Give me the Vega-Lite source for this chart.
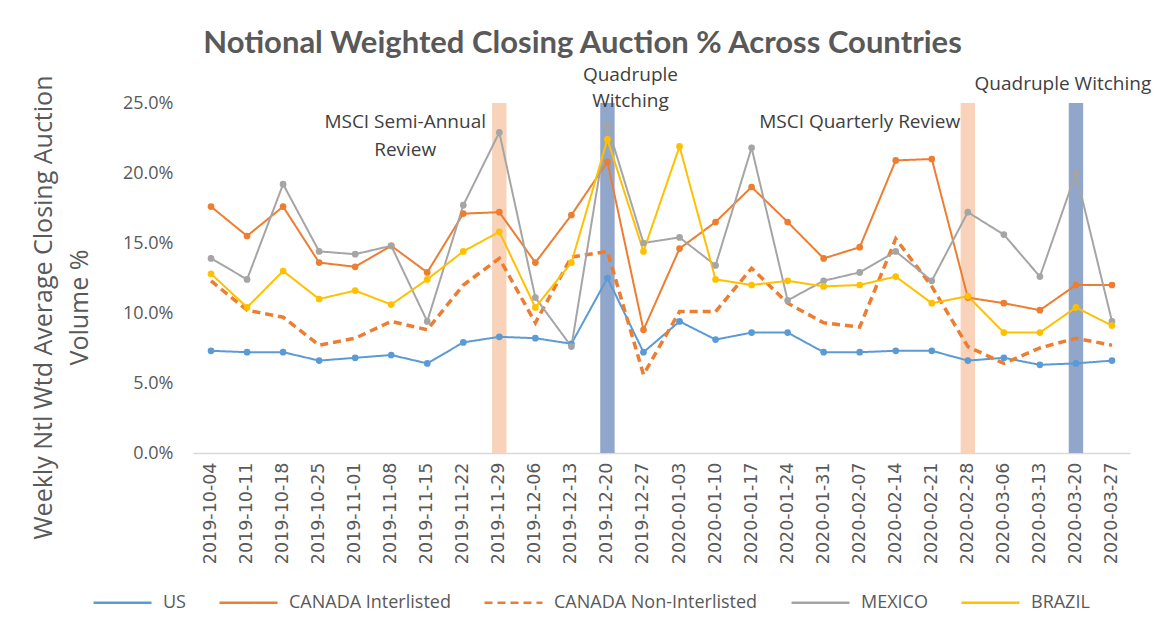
{
  "$schema": "https://vega.github.io/schema/vega-lite/v6.json",
  "autosize": "none",
  "width": 937,
  "height": 350,
  "padding": {"left": 193, "top": 103, "right": 28, "bottom": 179},
  "background": "white",
  "title": {
    "text": "Notional Weighted Closing Auction % Across Countries",
    "font": "Lato",
    "fontSize": 31,
    "fontWeight": "bold",
    "color": "#595959",
    "frame": "group",
    "anchor": "middle",
    "offset": 6,
    "dx": -79
  },
  "config": {
    "view": {"stroke": null},
    "axis": {"labelFont": "Open Sans", "titleFont": "Open Sans"},
    "legend": {"labelFont": "Open Sans"}
  },
  "datasets": {
    "series": [
      {"date": "2019-10-04", "series": "US", "value": 0.073},
      {"date": "2019-10-11", "series": "US", "value": 0.072},
      {"date": "2019-10-18", "series": "US", "value": 0.072},
      {"date": "2019-10-25", "series": "US", "value": 0.066},
      {"date": "2019-11-01", "series": "US", "value": 0.068},
      {"date": "2019-11-08", "series": "US", "value": 0.070},
      {"date": "2019-11-15", "series": "US", "value": 0.064},
      {"date": "2019-11-22", "series": "US", "value": 0.079},
      {"date": "2019-11-29", "series": "US", "value": 0.083},
      {"date": "2019-12-06", "series": "US", "value": 0.082},
      {"date": "2019-12-13", "series": "US", "value": 0.078},
      {"date": "2019-12-20", "series": "US", "value": 0.125},
      {"date": "2019-12-27", "series": "US", "value": 0.072},
      {"date": "2020-01-03", "series": "US", "value": 0.094},
      {"date": "2020-01-10", "series": "US", "value": 0.081},
      {"date": "2020-01-17", "series": "US", "value": 0.086},
      {"date": "2020-01-24", "series": "US", "value": 0.086},
      {"date": "2020-01-31", "series": "US", "value": 0.072},
      {"date": "2020-02-07", "series": "US", "value": 0.072},
      {"date": "2020-02-14", "series": "US", "value": 0.073},
      {"date": "2020-02-21", "series": "US", "value": 0.073},
      {"date": "2020-02-28", "series": "US", "value": 0.066},
      {"date": "2020-03-06", "series": "US", "value": 0.068},
      {"date": "2020-03-13", "series": "US", "value": 0.063},
      {"date": "2020-03-20", "series": "US", "value": 0.064},
      {"date": "2020-03-27", "series": "US", "value": 0.066},

      {"date": "2019-10-04", "series": "CANADA Interlisted", "value": 0.176},
      {"date": "2019-10-11", "series": "CANADA Interlisted", "value": 0.155},
      {"date": "2019-10-18", "series": "CANADA Interlisted", "value": 0.176},
      {"date": "2019-10-25", "series": "CANADA Interlisted", "value": 0.136},
      {"date": "2019-11-01", "series": "CANADA Interlisted", "value": 0.133},
      {"date": "2019-11-08", "series": "CANADA Interlisted", "value": 0.148},
      {"date": "2019-11-15", "series": "CANADA Interlisted", "value": 0.129},
      {"date": "2019-11-22", "series": "CANADA Interlisted", "value": 0.171},
      {"date": "2019-11-29", "series": "CANADA Interlisted", "value": 0.172},
      {"date": "2019-12-06", "series": "CANADA Interlisted", "value": 0.136},
      {"date": "2019-12-13", "series": "CANADA Interlisted", "value": 0.170},
      {"date": "2019-12-20", "series": "CANADA Interlisted", "value": 0.208},
      {"date": "2019-12-27", "series": "CANADA Interlisted", "value": 0.088},
      {"date": "2020-01-03", "series": "CANADA Interlisted", "value": 0.146},
      {"date": "2020-01-10", "series": "CANADA Interlisted", "value": 0.165},
      {"date": "2020-01-17", "series": "CANADA Interlisted", "value": 0.190},
      {"date": "2020-01-24", "series": "CANADA Interlisted", "value": 0.165},
      {"date": "2020-01-31", "series": "CANADA Interlisted", "value": 0.139},
      {"date": "2020-02-07", "series": "CANADA Interlisted", "value": 0.147},
      {"date": "2020-02-14", "series": "CANADA Interlisted", "value": 0.209},
      {"date": "2020-02-21", "series": "CANADA Interlisted", "value": 0.210},
      {"date": "2020-02-28", "series": "CANADA Interlisted", "value": 0.111},
      {"date": "2020-03-06", "series": "CANADA Interlisted", "value": 0.107},
      {"date": "2020-03-13", "series": "CANADA Interlisted", "value": 0.102},
      {"date": "2020-03-20", "series": "CANADA Interlisted", "value": 0.120},
      {"date": "2020-03-27", "series": "CANADA Interlisted", "value": 0.120},

      {"date": "2019-10-04", "series": "CANADA Non-Interlisted", "value": 0.123},
      {"date": "2019-10-11", "series": "CANADA Non-Interlisted", "value": 0.102},
      {"date": "2019-10-18", "series": "CANADA Non-Interlisted", "value": 0.097},
      {"date": "2019-10-25", "series": "CANADA Non-Interlisted", "value": 0.077},
      {"date": "2019-11-01", "series": "CANADA Non-Interlisted", "value": 0.082},
      {"date": "2019-11-08", "series": "CANADA Non-Interlisted", "value": 0.094},
      {"date": "2019-11-15", "series": "CANADA Non-Interlisted", "value": 0.088},
      {"date": "2019-11-22", "series": "CANADA Non-Interlisted", "value": 0.120},
      {"date": "2019-11-29", "series": "CANADA Non-Interlisted", "value": 0.139},
      {"date": "2019-12-06", "series": "CANADA Non-Interlisted", "value": 0.093},
      {"date": "2019-12-13", "series": "CANADA Non-Interlisted", "value": 0.140},
      {"date": "2019-12-20", "series": "CANADA Non-Interlisted", "value": 0.144},
      {"date": "2019-12-27", "series": "CANADA Non-Interlisted", "value": 0.056},
      {"date": "2020-01-03", "series": "CANADA Non-Interlisted", "value": 0.101},
      {"date": "2020-01-10", "series": "CANADA Non-Interlisted", "value": 0.101},
      {"date": "2020-01-17", "series": "CANADA Non-Interlisted", "value": 0.132},
      {"date": "2020-01-24", "series": "CANADA Non-Interlisted", "value": 0.107},
      {"date": "2020-01-31", "series": "CANADA Non-Interlisted", "value": 0.093},
      {"date": "2020-02-07", "series": "CANADA Non-Interlisted", "value": 0.090},
      {"date": "2020-02-14", "series": "CANADA Non-Interlisted", "value": 0.153},
      {"date": "2020-02-21", "series": "CANADA Non-Interlisted", "value": 0.119},
      {"date": "2020-02-28", "series": "CANADA Non-Interlisted", "value": 0.076},
      {"date": "2020-03-06", "series": "CANADA Non-Interlisted", "value": 0.064},
      {"date": "2020-03-13", "series": "CANADA Non-Interlisted", "value": 0.075},
      {"date": "2020-03-20", "series": "CANADA Non-Interlisted", "value": 0.082},
      {"date": "2020-03-27", "series": "CANADA Non-Interlisted", "value": 0.077},

      {"date": "2019-10-04", "series": "MEXICO", "value": 0.139},
      {"date": "2019-10-11", "series": "MEXICO", "value": 0.124},
      {"date": "2019-10-18", "series": "MEXICO", "value": 0.192},
      {"date": "2019-10-25", "series": "MEXICO", "value": 0.144},
      {"date": "2019-11-01", "series": "MEXICO", "value": 0.142},
      {"date": "2019-11-08", "series": "MEXICO", "value": 0.148},
      {"date": "2019-11-15", "series": "MEXICO", "value": 0.094},
      {"date": "2019-11-22", "series": "MEXICO", "value": 0.177},
      {"date": "2019-11-29", "series": "MEXICO", "value": 0.229},
      {"date": "2019-12-06", "series": "MEXICO", "value": 0.111},
      {"date": "2019-12-13", "series": "MEXICO", "value": 0.076},
      {"date": "2019-12-20", "series": "MEXICO", "value": 0.234},
      {"date": "2019-12-27", "series": "MEXICO", "value": 0.150},
      {"date": "2020-01-03", "series": "MEXICO", "value": 0.154},
      {"date": "2020-01-10", "series": "MEXICO", "value": 0.134},
      {"date": "2020-01-17", "series": "MEXICO", "value": 0.218},
      {"date": "2020-01-24", "series": "MEXICO", "value": 0.109},
      {"date": "2020-01-31", "series": "MEXICO", "value": 0.123},
      {"date": "2020-02-07", "series": "MEXICO", "value": 0.129},
      {"date": "2020-02-14", "series": "MEXICO", "value": 0.144},
      {"date": "2020-02-21", "series": "MEXICO", "value": 0.123},
      {"date": "2020-02-28", "series": "MEXICO", "value": 0.172},
      {"date": "2020-03-06", "series": "MEXICO", "value": 0.156},
      {"date": "2020-03-13", "series": "MEXICO", "value": 0.126},
      {"date": "2020-03-20", "series": "MEXICO", "value": 0.200},
      {"date": "2020-03-27", "series": "MEXICO", "value": 0.094},

      {"date": "2019-10-04", "series": "BRAZIL", "value": 0.128},
      {"date": "2019-10-11", "series": "BRAZIL", "value": 0.104},
      {"date": "2019-10-18", "series": "BRAZIL", "value": 0.130},
      {"date": "2019-10-25", "series": "BRAZIL", "value": 0.110},
      {"date": "2019-11-01", "series": "BRAZIL", "value": 0.116},
      {"date": "2019-11-08", "series": "BRAZIL", "value": 0.106},
      {"date": "2019-11-15", "series": "BRAZIL", "value": 0.124},
      {"date": "2019-11-22", "series": "BRAZIL", "value": 0.144},
      {"date": "2019-11-29", "series": "BRAZIL", "value": 0.158},
      {"date": "2019-12-06", "series": "BRAZIL", "value": 0.104},
      {"date": "2019-12-13", "series": "BRAZIL", "value": 0.136},
      {"date": "2019-12-20", "series": "BRAZIL", "value": 0.224},
      {"date": "2019-12-27", "series": "BRAZIL", "value": 0.144},
      {"date": "2020-01-03", "series": "BRAZIL", "value": 0.219},
      {"date": "2020-01-10", "series": "BRAZIL", "value": 0.124},
      {"date": "2020-01-17", "series": "BRAZIL", "value": 0.120},
      {"date": "2020-01-24", "series": "BRAZIL", "value": 0.123},
      {"date": "2020-01-31", "series": "BRAZIL", "value": 0.119},
      {"date": "2020-02-07", "series": "BRAZIL", "value": 0.120},
      {"date": "2020-02-14", "series": "BRAZIL", "value": 0.126},
      {"date": "2020-02-21", "series": "BRAZIL", "value": 0.107},
      {"date": "2020-02-28", "series": "BRAZIL", "value": 0.112},
      {"date": "2020-03-06", "series": "BRAZIL", "value": 0.086},
      {"date": "2020-03-13", "series": "BRAZIL", "value": 0.086},
      {"date": "2020-03-20", "series": "BRAZIL", "value": 0.104},
      {"date": "2020-03-27", "series": "BRAZIL", "value": 0.091}
    ],
    "bands": [
      {"date": "2019-11-29", "kind": "MSCI"},
      {"date": "2020-02-28", "kind": "MSCI"},
      {"date": "2019-12-20", "kind": "Witching"},
      {"date": "2020-03-20", "kind": "Witching"}
    ],
    "notes": [
      {"date": "2019-11-08", "value": 0.2364, "label": "MSCI Semi-Annual", "grp": "a"},
      {"date": "2019-11-08", "value": 0.2164, "label": "Review", "grp": "a"},
      {"date": "2019-12-20", "value": 0.2700, "label": "Quadruple", "grp": "b"},
      {"date": "2019-12-20", "value": 0.2514, "label": "Witching", "grp": "b"},
      {"date": "2020-03-13", "value": 0.2636, "label": "Quadruple Witching", "grp": "b"},
      {"date": "2020-02-07", "value": 0.2364, "label": "MSCI Quarterly Review", "grp": "c"}
    ]
  },
  "encoding": {
    "x": {
      "field": "date",
      "type": "ordinal",
      "scale": {"type": "band", "paddingInner": 0, "paddingOuter": 0},
      "axis": {
        "title": null,
        "labelAngle": -90,
        "labelAlign": "right",
        "labelBaseline": "middle",
        "labelFont": "DejaVu Sans",
        "labelFontSize": 17.5,
        "labelColor": "#595959",
        "labelPadding": 9,
        "ticks": false,
        "domainColor": "#D9D9D9",
        "domainWidth": 1.5,
        "grid": false
      }
    }
  },
  "layer": [
    {
      "data": {"name": "bands"},
      "transform": [{"filter": "datum.kind === 'MSCI'"}],
      "mark": {"type": "bar", "width": {"band": 0.4}, "color": "#F8D3BA"},
      "encoding": {"y": {"datum": 0}, "y2": {"datum": 0.25}}
    },
    {
      "data": {"name": "bands"},
      "transform": [{"filter": "datum.kind === 'Witching'"}],
      "mark": {"type": "bar", "width": {"band": 0.4}, "color": "#91A6CB"},
      "encoding": {"y": {"datum": 0}, "y2": {"datum": 0.25}}
    },
    {
      "data": {"name": "series"},
      "mark": {"type": "line"},
      "encoding": {
        "y": {
          "field": "value",
          "type": "quantitative",
          "scale": {"domain": [0, 0.25], "nice": false},
          "axis": {
            "title": ["Weekly Ntl Wtd Average Closing Auction", "Volume %"],
            "titleFontSize": 25,
            "titleFontWeight": "normal",
            "titleColor": "#595959",
            "titleLineHeight": 36,
            "titlePadding": 30,
            "titleY": 204,
            "format": ".1%",
            "values": [0, 0.05, 0.1, 0.15, 0.2, 0.25],
            "labelFontSize": 18,
            "labelColor": "#595959",
            "labelPadding": 20,
            "ticks": false,
            "domain": false,
            "gridColor": "#D9D9D9",
            "gridWidth": 1.5
          }
        },
        "color": {
          "field": "series",
          "type": "nominal",
          "scale": {
            "domain": ["US", "CANADA Interlisted", "CANADA Non-Interlisted", "MEXICO", "BRAZIL"],
            "range": ["#5B9BD5", "#ED7D31", "#ED7D31", "#A5A5A5", "#FFC000"]
          },
          "legend": {
            "title": null,
            "orient": "none",
            "direction": "horizontal",
            "legendX": -101,
            "legendY": 469,
            "symbolType": "stroke",
            "symbolSize": 3364,
            "symbolStrokeWidth": 2.5,
            "labelFontSize": 18,
            "labelColor": "#595959",
            "labelOffset": 10,
            "labelLimit": 400,
            "columnPadding": 28
          }
        },
        "strokeDash": {
          "field": "series",
          "type": "nominal",
          "scale": {
            "domain": ["US", "CANADA Interlisted", "CANADA Non-Interlisted", "MEXICO", "BRAZIL"],
            "range": [[1, 0], [1, 0], [8, 5], [1, 0], [1, 0]]
          },
          "legend": {
            "title": null,
            "orient": "none",
            "direction": "horizontal",
            "legendX": -101,
            "legendY": 469,
            "symbolType": "stroke",
            "symbolSize": 3364,
            "symbolStrokeWidth": 2.5,
            "labelFontSize": 18,
            "labelColor": "#595959",
            "labelOffset": 10,
            "labelLimit": 400,
            "columnPadding": 28
          }
        },
        "strokeWidth": {
          "condition": {"test": "datum.series === 'CANADA Non-Interlisted'", "value": 3.5},
          "value": 2
        }
      }
    },
    {
      "data": {"name": "series"},
      "transform": [{"filter": "datum.series !== 'CANADA Non-Interlisted'"}],
      "mark": {"type": "point", "filled": true, "opacity": 1, "size": 45},
      "encoding": {
        "y": {"field": "value", "type": "quantitative"},
        "color": {"field": "series", "type": "nominal"}
      }
    },
    {
      "data": {"name": "notes"},
      "transform": [{"filter": "datum.grp === 'a'"}],
      "mark": {"type": "text", "font": "Open Sans", "fontSize": 19, "color": "#404040", "baseline": "middle", "dx": 14},
      "encoding": {"y": {"field": "value", "type": "quantitative"}, "text": {"field": "label"}}
    },
    {
      "data": {"name": "notes"},
      "transform": [{"filter": "datum.grp === 'b'"}],
      "mark": {"type": "text", "font": "Open Sans", "fontSize": 19, "color": "#404040", "baseline": "middle", "dx": 23},
      "encoding": {"y": {"field": "value", "type": "quantitative"}, "text": {"field": "label"}}
    },
    {
      "data": {"name": "notes"},
      "transform": [{"filter": "datum.grp === 'c'"}],
      "mark": {"type": "text", "font": "Open Sans", "fontSize": 19, "color": "#404040", "baseline": "middle", "dx": 0},
      "encoding": {"y": {"field": "value", "type": "quantitative"}, "text": {"field": "label"}}
    }
  ]
}
